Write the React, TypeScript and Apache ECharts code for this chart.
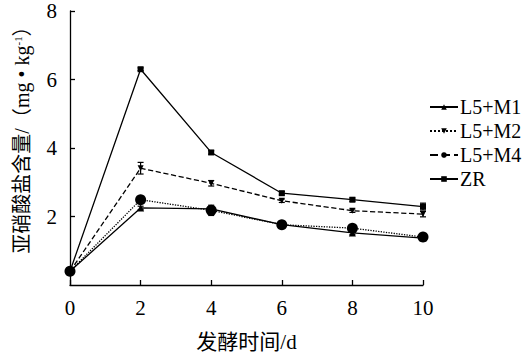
import React, { useEffect, useRef } from "react";
import * as echarts from "echarts";

const days = [0, 2, 4, 6, 8, 10];
const seriesNames = ["L5+M1", "L5+M2", "L5+M4", "ZR"];
const m1 = [0.4, 2.25, 2.22, 1.76, 1.52, 1.37];
const m2 = [0.4, 3.41, 2.97, 2.46, 2.17, 2.07];
const m4 = [0.4, 2.49, 2.18, 1.76, 1.66, 1.4];
const zr = [0.4, 6.3, 3.87, 2.68, 2.49, 2.29];
const m1Err = [0, 0.05, 0.08, 0.05, 0.05, 0.05];
const m2Err = [0, 0.17, 0.08, 0.05, 0.05, 0.08];
const m4Err = [0, 0.05, 0.15, 0.05, 0.05, 0.05];
const zrErr = [0, 0.04, 0.05, 0.05, 0.05, 0.1];
const xTicks = [0, 10, 2];
const yTicks = [0, 8, 2];

const FONT = "'Times New Roman', 'Liberation Serif', 'Noto Sans CJK SC', serif";

export default function App() {
  const ref = useRef<HTMLDivElement>(null);
  useEffect(() => {
    if (!ref.current) return;
    const chart = echarts.init(ref.current, null, { renderer: "svg" });
    const all = [m1, m2, m4, zr];
    const errs = [m1Err, m2Err, m4Err, zrErr];
    const errData: number[][] = [];
    all.forEach((s, i) =>
      s.forEach((v, j) => {
        if (errs[i][j] > 0) errData.push([days[j], v - errs[i][j], v + errs[i][j]]);
      })
    );
    const mk = (name: string, data: number[], symbol: string, size: number, type: any) => ({
      name,
      type: "line",
      data: days.map((d, i) => [d, data[i]]),
      symbol,
      symbolSize: size,
      itemStyle: { color: "#000" },
      lineStyle: { color: "#000", width: 1.3, type },
      z: 3,
    });
    chart.setOption({
      animation: false,
      backgroundColor: "#fff",
      textStyle: { fontFamily: FONT, color: "#000" },
      grid: { left: 70, right: 103, top: 11, bottom: 72, containLabel: false, outerBoundsMode: "none" },
      legend: {
        orient: "vertical",
        left: 424,
        top: 92,
        itemWidth: 28,
        itemHeight: 7,
        itemGap: 4,
        textStyle: { fontFamily: FONT, fontSize: 20, color: "#000", padding: [0, 0, 0, -3] },
        data: [
          { name: "L5+M1", lineStyle: { type: "solid" } },
          { name: "L5+M2", lineStyle: { type: "dotted" } },
          { name: "L5+M4", lineStyle: { type: "dashed" } },
          { name: "ZR", lineStyle: { type: "solid" } },
        ],
      },
      xAxis: {
        type: "value",
        min: xTicks[0],
        max: xTicks[1],
        interval: xTicks[2],
        name: "发酵时间/d",
        nameLocation: "middle",
        nameGap: 46,
        nameTextStyle: { fontFamily: FONT, fontSize: 21, color: "#000" },
        axisLine: { lineStyle: { color: "#000", width: 1.3 } },
        axisTick: { inside: true, length: 5, lineStyle: { color: "#000", width: 1.3 } },
        axisLabel: { fontFamily: FONT, fontSize: 21, color: "#000", margin: 12 },
        splitLine: { show: false },
      },
      yAxis: {
        type: "value",
        min: yTicks[0],
        max: yTicks[1],
        interval: yTicks[2],
        name: "{p|}{a|亚硝酸盐含量/（mg • kg}{sup|-1}{a|）}",
        nameLocation: "middle",
        nameGap: 38,
        nameTextStyle: {
          fontFamily: FONT,
          fontSize: 20,
          color: "#000",
          rich: {
            p: { width: 26, fontSize: 20 },
            a: { fontFamily: FONT, fontSize: 20, color: "#000" },
            sup: { fontFamily: FONT, fontSize: 11, color: "#000", verticalAlign: "top", padding: [0, 0, 8, 0] },
          },
        },
        axisLine: { show: true, lineStyle: { color: "#000", width: 1.3 } },
        axisTick: { show: true, inside: true, length: 5, lineStyle: { color: "#000", width: 1.3 } },
        axisLabel: { fontFamily: FONT, fontSize: 21, color: "#000", margin: 13, showMinLabel: false },
        splitLine: { show: false },
      },
      series: [
        mk(seriesNames[0], m1, "triangle", 7, "solid"),
        mk(seriesNames[1], m2, "path://M0,0L10,0L5,10Z", 6, "dashed"),
        mk(seriesNames[2], m4, "circle", 11, "dotted"),
        mk(seriesNames[3], zr, "rect", 6, "solid"),
        {
          type: "custom",
          z: 2,
          data: errData,
          renderItem: (params: any, api: any) => {
            const x = api.value(0);
            const lo = api.coord([x, api.value(1)]);
            const hi = api.coord([x, api.value(2)]);
            const w = 3;
            const style = { stroke: "#000", lineWidth: 1.2 };
            return {
              type: "group",
              children: [
                { type: "line", shape: { x1: lo[0], y1: lo[1], x2: hi[0], y2: hi[1] }, style },
                { type: "line", shape: { x1: lo[0] - w, y1: lo[1], x2: lo[0] + w, y2: lo[1] }, style },
                { type: "line", shape: { x1: hi[0] - w, y1: hi[1], x2: hi[0] + w, y2: hi[1] }, style },
              ],
            };
          },
        },
      ],
    });
    return () => chart.dispose();
  }, []);
  return (
    <div
      ref={ref}
      style={{ position: "fixed", left: 0, top: 0, width: 526, height: 357, background: "#fff" }}
    />
  );
}
